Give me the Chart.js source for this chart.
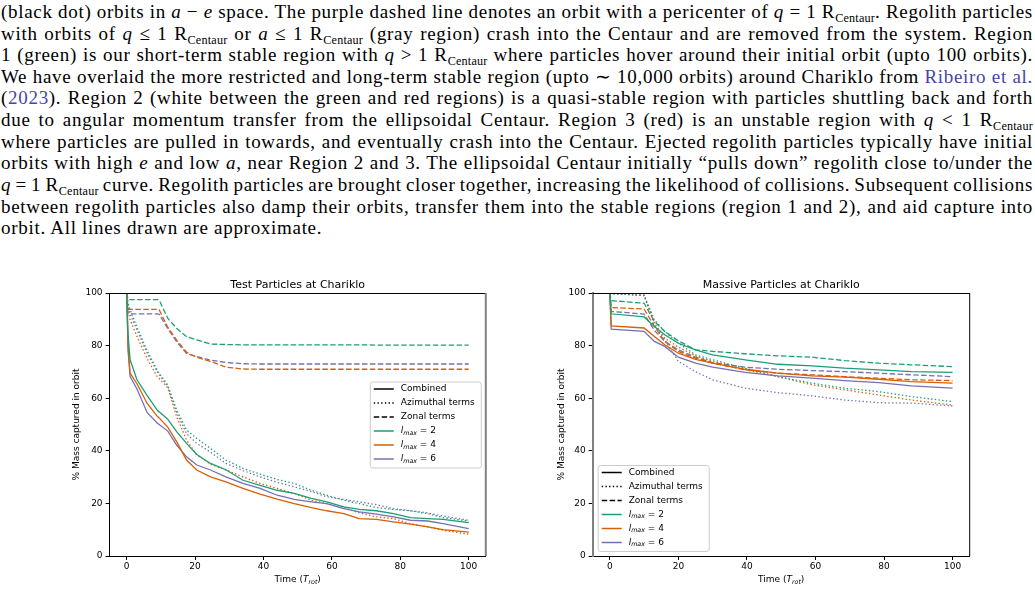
<!DOCTYPE html>
<html>
<head>
<meta charset="utf-8">
<script src="https://cdn.jsdelivr.net/npm/chart.js@4.4.1/dist/chart.umd.min.js"></script>
<style>
  html, body { margin:0; padding:0; background:#fff; }
  body { width:1035px; height:591px; position:relative; overflow:hidden; }
  #para { position:absolute; left:1px; top:0.9px; width:1032px; font-family:"Liberation Serif", serif; font-size:19px; line-height:21.65px; color:#000; letter-spacing:0.7px; }
  #para .ln { white-space:nowrap; height:21.65px; }
  #para .ln span.inner { display:inline-block; }
  #para sub { font-size:0.64em; vertical-align:-0.3em; line-height:0; letter-spacing:0.2px; }
  #para .c { color:#4646a6; }
  canvas { position:absolute; }
  #c1 { left:40px; top:270px; }
  #c2 { left:525px; top:270px; }
</style>
</head>
<body>
<div id="para">
<div class="ln"><span class="inner">(black dot) orbits in <i>a</i> − <i>e</i> space. The purple dashed line denotes an orbit with a pericenter of <i>q</i> = 1 R<sub>Centaur</sub>. Regolith particles</span></div>
<div class="ln"><span class="inner">with orbits of <i>q</i> ≤ 1 R<sub>Centaur</sub> or <i>a</i> ≤ 1 R<sub>Centaur</sub> (gray region) crash into the Centaur and are removed from the system. Region</span></div>
<div class="ln"><span class="inner">1 (green) is our short-term stable region with <i>q</i> &gt; 1 R<sub>Centaur</sub> where particles hover around their initial orbit (upto 100 orbits).</span></div>
<div class="ln"><span class="inner">We have overlaid the more restricted and long-term stable region (upto ∼ 10,000 orbits) around Chariklo from <span class="c">Ribeiro et al.</span></span></div>
<div class="ln"><span class="inner">(<span class="c">2023</span>). Region 2 (white between the green and red regions) is a quasi-stable region with particles shuttling back and forth</span></div>
<div class="ln"><span class="inner">due to angular momentum transfer from the ellipsoidal Centaur. Region 3 (red) is an unstable region with <i>q</i> &lt; 1 R<sub>Centaur</sub></span></div>
<div class="ln"><span class="inner">where particles are pulled in towards, and eventually crash into the Centaur. Ejected regolith particles typically have initial</span></div>
<div class="ln"><span class="inner">orbits with high <i>e</i> and low <i>a</i>, near Region 2 and 3. The ellipsoidal Centaur initially “pulls down” regolith close to/under the</span></div>
<div class="ln"><span class="inner"><i>q</i> = 1 R<sub>Centaur</sub> curve. Regolith particles are brought closer together, increasing the likelihood of collisions. Subsequent collisions</span></div>
<div class="ln"><span class="inner">between regolith particles also damp their orbits, transfer them into the stable regions (region 1 and 2), and aid capture into</span></div>
<div class="ln last"><span class="inner">orbit. All lines drawn are approximate.</span></div>
</div>
<canvas id="c1" width="460" height="321"></canvas>
<canvas id="c2" width="460" height="321"></canvas>
<script>
// ---------- Data ----------
const titleTest = 'Test Particles at Chariklo';
const titleMassive = 'Massive Particles at Chariklo';
const yAxisLabel = '% Mass captured in orbit';
const xTickValues = [0, 20, 40, 60, 80, 100];
const yTickValues = [0, 20, 40, 60, 80, 100];
const termLabels = ['Combined', 'Azimuthal terms', 'Zonal terms'];
const lmaxValues = [2, 4, 6];

const timeTest = [0, 0.4, 1, 3, 6, 9, 9.5, 12, 14.6, 17.5, 20.5, 24.5, 29, 34, 39, 44, 49, 54, 58.5, 63.5, 68, 73, 78, 83, 88, 92.5, 100];
const testCombined2 = [100, 84, 74.6, 67, 61, 55.3, 54.8, 52, 47.3, 42.8, 38.6, 35.2, 32.8, 28.8, 26.9, 25, 23.8, 21.9, 20.6, 18.7, 17.7, 17.2, 16.1, 14.6, 14.2, 13.9, 12.7];
const testCombined4 = [100, 80, 69.5, 65.5, 58, 53, 52.5, 49, 43.5, 36.5, 32.7, 30.1, 28.2, 25.7, 23.5, 21.6, 19.9, 18.4, 17.2, 16.1, 14.2, 13.9, 13, 12.1, 11.1, 10, 9.1];
const testCombined6 = [100, 78, 68.2, 63.5, 54.5, 50.5, 50, 47.5, 42.2, 37.7, 34.6, 32.7, 30.1, 27.6, 25.7, 23.1, 21.5, 20.6, 19.9, 18, 16.8, 15.9, 14.9, 13.6, 13.3, 12.3, 10.4];
const testAzimuthal2 = [100, 96, 93.6, 87, 78, 70.5, 69.5, 65, 55.5, 47.9, 44.7, 40.9, 36.5, 33.3, 31.1, 29.1, 27.6, 25, 23.1, 21.2, 19.9, 18.4, 17.7, 17.2, 16.1, 14.6, 13.3];
const testAzimuthal4 = [100, 93, 89.8, 83.5, 75, 68, 67.5, 64, 53, 44.1, 38.4, 34.9, 32.7, 30.1, 27.6, 25.7, 23.8, 21.2, 19.9, 18.4, 16.4, 14.9, 14.2, 12.3, 11.1, 9.8, 8.3];
const testAzimuthal6 = [100, 95, 92, 86, 77, 70, 69, 64.5, 54.5, 46.5, 42.8, 39.5, 35.2, 32.5, 30.1, 28, 26.3, 24.5, 22.5, 21.5, 20.6, 19.5, 18, 17.2, 16.4, 15.2, 13.6];
const testZonal2 = [100, 97.5, 97.5, 97.5, 97.5, 97.5, 97.3, 90.4, 86.6, 83.4, 82.2, 80.6, 80.4, 80.3, 80.3, 80.3, 80.3, 80.3, 80.3, 80.3, 80.3, 80.2, 80.2, 80.2, 80.2, 80.2, 80.2];
const testZonal4 = [100, 93.8, 93.8, 93.8, 93.8, 93.8, 93.6, 87, 82.1, 77.5, 75.5, 74, 71.8, 71.1, 71, 71, 71, 71, 71, 71, 71, 71, 71, 71, 71, 71, 71];
const testZonal6 = [100, 92.1, 92.1, 92.1, 92.1, 92.1, 91.9, 86.5, 81.5, 77, 75.8, 74.5, 73.6, 73.1, 73, 73, 73, 73, 73, 73, 73, 73, 73, 73, 73, 73, 73];

const timeMassive = [0, 0.4, 10, 13, 16, 20, 25, 30, 39.5, 49, 59, 68.5, 78.5, 88, 100];
const massiveCombined2 = [100, 92.1, 90.9, 87.3, 84.1, 80.9, 78.4, 76.5, 74.6, 72.9, 72.3, 71.4, 70.8, 70.1, 69.8];
const massiveCombined4 = [100, 87.5, 86.7, 83.5, 80.3, 77.1, 74.8, 73.3, 71, 69.5, 68.5, 68, 67.2, 66.3, 65.7];
const massiveCombined6 = [100, 86.3, 85.4, 81.6, 79.7, 75.6, 73.3, 71.8, 69.8, 68.5, 67.6, 66.7, 65.9, 64.7, 63.8];
const massiveAzimuthal2 = [100, 99.8, 99, 89.8, 85.4, 80.9, 76.5, 74.6, 71.4, 68.2, 65.7, 63.8, 62.5, 60.6, 58.7];
const massiveAzimuthal4 = [100, 99.8, 99.3, 88.6, 82.8, 79.4, 76.1, 74, 70.8, 68.2, 65.1, 63.2, 61.2, 59.3, 57.4];
const massiveAzimuthal6 = [100, 99.8, 99, 87.9, 82.2, 74, 70.1, 67, 63.8, 62.1, 60.9, 59.3, 58.3, 58.1, 57.1];
const massiveZonal2 = [100, 97.1, 96.1, 89.2, 85.4, 81.8, 78.4, 77.8, 76.9, 76.1, 75.6, 74.3, 73.3, 72.7, 72.0];
const massiveZonal4 = [100, 94.5, 93.9, 87.3, 81.6, 77.8, 75.2, 73.3, 70.8, 69.5, 68.9, 68.2, 67.6, 67, 66.7];
const massiveZonal6 = [100, 93, 92, 85.8, 81.6, 78.4, 75.6, 73.5, 71.8, 71, 70.5, 70.1, 69.5, 68.9, 68.2];

// ---------- Styles ----------
const COLORS = ['#1b9e77', '#d95f02', '#7570b3'];
const DASHED = [5.5, 2.4];
const DOTTED = [1.4, 2.3];
const LW = 1.3;
const FONT = '"DejaVu Sans", sans-serif';

function buildDatasets(time, combined, azimuthal, zonal) {
  const ds = [];
  const groups = [[combined, []], [azimuthal, DOTTED], [zonal, DASHED]];
  groups.forEach(([list, dash]) => {
    list.forEach((vals, i) => {
      ds.push({
        data: time.map((t, k) => ({x: t, y: vals[k]})),
        borderColor: COLORS[i], borderWidth: LW, borderDash: dash,
        pointRadius: 0, tension: 0, fill: false
      });
    });
  });
  return ds;
}

// spines + x title + legend drawn with chart geometry
const framePlugin = {
  id: 'frame',
  afterDatasetsDraw(chart, args, o) {
    const ctx = chart.ctx, a = chart.chartArea;
    ctx.save();
    ctx.setLineDash([]);
    ctx.strokeStyle = '#000'; ctx.lineWidth = 1;
    ctx.beginPath(); ctx.moveTo(a.left, a.top + 0.5); ctx.lineTo(a.right, a.top + 0.5); ctx.stroke();
    ctx.strokeStyle = o.rightColor; ctx.lineWidth = o.rightWidth;
    ctx.beginPath(); ctx.moveTo(a.right, a.top); ctx.lineTo(a.right, a.bottom); ctx.stroke();
    const y = a.bottom + 24;
    const parts = [
      {t: 'Time (', f: '9px ' + FONT, dy: 0},
      {t: 'T', f: 'italic 9px ' + FONT, dy: 0},
      {t: 'rot', f: 'italic 6.3px ' + FONT, dy: 2},
      {t: ')', f: '9px ' + FONT, dy: 0}
    ];
    let total = 0;
    parts.forEach(p => { ctx.font = p.f; p.w = ctx.measureText(p.t).width; total += p.w; });
    let x = (a.left + a.right) / 2 - total / 2;
    ctx.fillStyle = '#000'; ctx.textBaseline = 'middle'; ctx.textAlign = 'left';
    parts.forEach(p => { ctx.font = p.f; ctx.fillText(p.t, x, y + p.dy); x += p.w; });
    ctx.restore();
  },
  afterDraw(chart, args, o) {
    const ctx = chart.ctx, a = chart.chartArea;
    ctx.save();
    ctx.font = '9px ' + FONT;
    let maxW = 0;
    termLabels.forEach(t => { maxW = Math.max(maxW, ctx.measureText(t).width); });
    const w = 31 + maxW + 6, h = 86;
    const x0 = o.loc === 'centerRight' ? a.right - 5 - w : a.left + 5;
    const y0 = o.loc === 'centerRight' ? (a.top + a.bottom) / 2 - h / 2 : a.bottom - 5 - h;
    ctx.beginPath();
    ctx.roundRect(x0 + 0.5, y0 + 0.5, w, h, 2.5);
    ctx.fillStyle = 'rgba(255,255,255,0.8)'; ctx.fill();
    ctx.strokeStyle = '#cccccc'; ctx.lineWidth = 1; ctx.stroke();
    const rows = [
      {c: '#000', d: []}, {c: '#000', d: DOTTED}, {c: '#000', d: DASHED},
      {c: COLORS[0], d: []}, {c: COLORS[1], d: []}, {c: COLORS[2], d: []}
    ];
    rows.forEach((r, i) => {
      const yy = y0 + 7.5 + 14 * i;
      ctx.setLineDash(r.d); ctx.strokeStyle = r.c; ctx.lineWidth = 1.5;
      ctx.beginPath(); ctx.moveTo(x0 + 4, yy); ctx.lineTo(x0 + 24, yy); ctx.stroke();
      ctx.setLineDash([]);
      ctx.fillStyle = '#000'; ctx.textBaseline = 'middle'; ctx.textAlign = 'left';
      let tx = x0 + 31;
      if (i < 3) {
        ctx.font = '9px ' + FONT; ctx.fillText(termLabels[i], tx, yy);
      } else {
        ctx.font = 'italic 9px ' + FONT; ctx.fillText('l', tx, yy); tx += ctx.measureText('l').width;
        ctx.font = 'italic 6.3px ' + FONT; ctx.fillText('max', tx, yy + 2); tx += ctx.measureText('max').width;
        ctx.font = '9px ' + FONT; ctx.fillText(' = ' + lmaxValues[i - 3], tx, yy);
      }
    });
    ctx.restore();
  }
};

function makeChart(id, title, time, combined, azimuthal, zonal, geom) {
  return new Chart(document.getElementById(id), {
    type: 'line',
    data: { datasets: buildDatasets(time, combined, azimuthal, zonal) },
    plugins: [framePlugin],
    options: {
      responsive: false, animation: false, devicePixelRatio: 1,
      layout: { padding: { left: 0, right: geom.padRight, top: 0, bottom: 0 } },
      plugins: {
        legend: { display: false }, tooltip: { enabled: false },
        title: { display: true, text: title, fullSize: false, color: '#000',
                 font: { family: FONT, size: 11, weight: 'normal' }, padding: { top: 8.5, bottom: 1.3 } },
        frame: { loc: geom.loc, rightColor: geom.rightColor, rightWidth: geom.rightWidth }
      },
      scales: {
        x: {
          type: 'linear', min: -5, max: 105,
          afterBuildTicks: s => { s.ticks = xTickValues.map(v => ({value: v})); },
          afterFit: s => { s.height = 35; },
          ticks: { color: '#000', font: { family: FONT, size: 9 }, padding: 1, autoSkip: false, maxRotation: 0 },
          grid: { display: true, drawOnChartArea: false, drawTicks: true, tickLength: 4, color: '#000', lineWidth: 1 },
          border: { display: true, color: '#000', width: 1 }
        },
        y: {
          type: 'linear', min: 0, max: 100,
          afterBuildTicks: s => { s.ticks = yTickValues.map(v => ({value: v})); },
          afterFit: s => { s.width = geom.yWidth; },
          ticks: { color: '#000', font: { family: FONT, size: 9 }, padding: 3, autoSkip: false },
          grid: { display: true, drawOnChartArea: false, drawTicks: true, tickLength: 4, color: '#000', lineWidth: 1 },
          border: { display: true, color: geom.leftColor, width: geom.leftWidth },
          title: { display: true, text: yAxisLabel, color: '#000', font: { family: FONT, size: 9 }, padding: { top: 31, bottom: 0 } }
        }
      }
    }
  });
}

makeChart('c1', titleTest, timeTest,
  [testCombined2, testCombined4, testCombined6],
  [testAzimuthal2, testAzimuthal4, testAzimuthal6],
  [testZonal2, testZonal4, testZonal6],
  { padRight: 14.2, yWidth: 69.6, loc: 'centerRight', rightColor: '#808080', rightWidth: 2, leftColor: '#000', leftWidth: 1 });

makeChart('c2', titleMassive, timeMassive,
  [massiveCombined2, massiveCombined4, massiveCombined6],
  [massiveAzimuthal2, massiveAzimuthal4, massiveAzimuthal6],
  [massiveZonal2, massiveZonal4, massiveZonal6],
  { padRight: 15.3, yWidth: 67.7, loc: 'lowerLeft', rightColor: '#000', rightWidth: 1, leftColor: '#808080', leftWidth: 2 });

// justify paragraph lines
(function justify() {
  const W = 1032;
  document.querySelectorAll('#para .ln').forEach(ln => {
    if (ln.classList.contains('last')) return;
    const inner = ln.querySelector('.inner');
    inner.style.wordSpacing = '0px';
    const w = inner.getBoundingClientRect().width;
    const n = (inner.textContent.match(/ /g) || []).length;
    if (n > 0) inner.style.wordSpacing = ((W - w) / n) + 'px';
  });
})();
</script>
</body>
</html>
